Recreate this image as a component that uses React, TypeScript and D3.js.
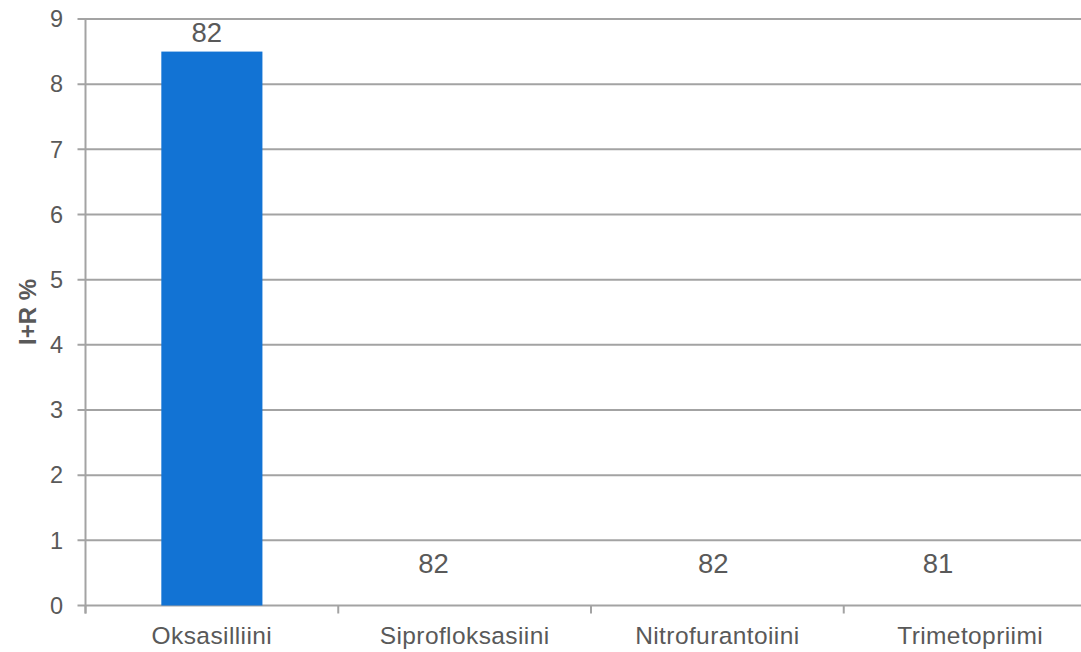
import React from "react";
import * as d3 from "d3";

const categories = ["Oksasilliini", "Siprofloksasiini", "Nitrofurantoiini", "Trimetopriimi"];
const values = [8.5, 0, 0, 0];
const counts = ["82", "82", "82", "81"];
const yTicks = [0, 1, 2, 3, 4, 5, 6, 7, 8, 9];
const yTitle = "I+R %";

const W = 1081;
const H = 652;
const left = 85.5;
const bandW = 252.75;
const y0 = 605.5;
const yTop = 19;

// small manual nudges of the count labels (style, not data)
const labelDx = [-5, -31, -4, -32];
const labelLift = [10, 33, 33, 33];

export default function App() {
  const x = d3
    .scaleBand<string>()
    .domain(categories)
    .range([left, left + bandW * categories.length])
    .padding(0);
  const y = d3.scaleLinear().domain([0, 9]).range([y0, yTop]);
  const bw = x.bandwidth();
  const barW = bw * 0.4;
  const grid = "#a3a3a3";
  const txt = "#595959";
  const font = "'Liberation Sans', Arial, sans-serif";

  return (
    <svg
      width={W}
      height={H}
      style={{ position: "absolute", left: 0, top: 0, display: "block", background: "#fff" }}
      fontFamily={font}
    >
      {/* gridlines */}
      {yTicks.map((t) => (
        <line key={"g" + t} x1={left - 8} x2={W} y1={y(t)} y2={y(t)} stroke={grid} strokeWidth={2} />
      ))}
      {/* y tick labels */}
      {yTicks.map((t) => (
        <text key={"t" + t} x={63} y={y(t)} dy="0.35em" textAnchor="end" fontSize={23.5} fill={txt}>
          {t}
        </text>
      ))}
      {/* y axis */}
      <line x1={left} x2={left} y1={yTop} y2={y0 + 8} stroke={grid} strokeWidth={2} />
      {/* x ticks */}
      {categories.map((c, i) => (
        <line
          key={"xt" + c}
          x1={(x(c) as number) + (i === 0 ? 0 : 0)}
          x2={x(c) as number}
          y1={y0}
          y2={y0 + 8}
          stroke={grid}
          strokeWidth={2}
        />
      ))}
      {/* bars */}
      {categories.map((c, i) =>
        values[i] > 0 ? (
          <rect
            key={"b" + c}
            x={(x(c) as number) + (bw - barW) / 2}
            width={barW}
            y={y(values[i])}
            height={y(0) - y(values[i])}
            fill="#1273d4"
          />
        ) : null
      )}
      {/* count labels */}
      {categories.map((c, i) => (
        <text
          key={"v" + c}
          x={(x(c) as number) + bw / 2 + labelDx[i]}
          y={y(values[i]) - labelLift[i]}
          textAnchor="middle"
          fontSize={27.5}
          fill={txt}
        >
          {counts[i]}
        </text>
      ))}
      {/* category labels */}
      {categories.map((c) => (
        <text
          key={"c" + c}
          x={(x(c) as number) + bw / 2}
          y={644}
          textAnchor="middle"
          fontSize={24.5}
          fill={txt}
          letterSpacing={0.4}
        >
          {c}
        </text>
      ))}
      {/* y title */}
      <text
        transform={`translate(36, 312) rotate(-90)`}
        textAnchor="middle"
        fontSize={24}
        fontWeight="bold"
        fill={txt}
      >
        {yTitle}
      </text>
    </svg>
  );
}
